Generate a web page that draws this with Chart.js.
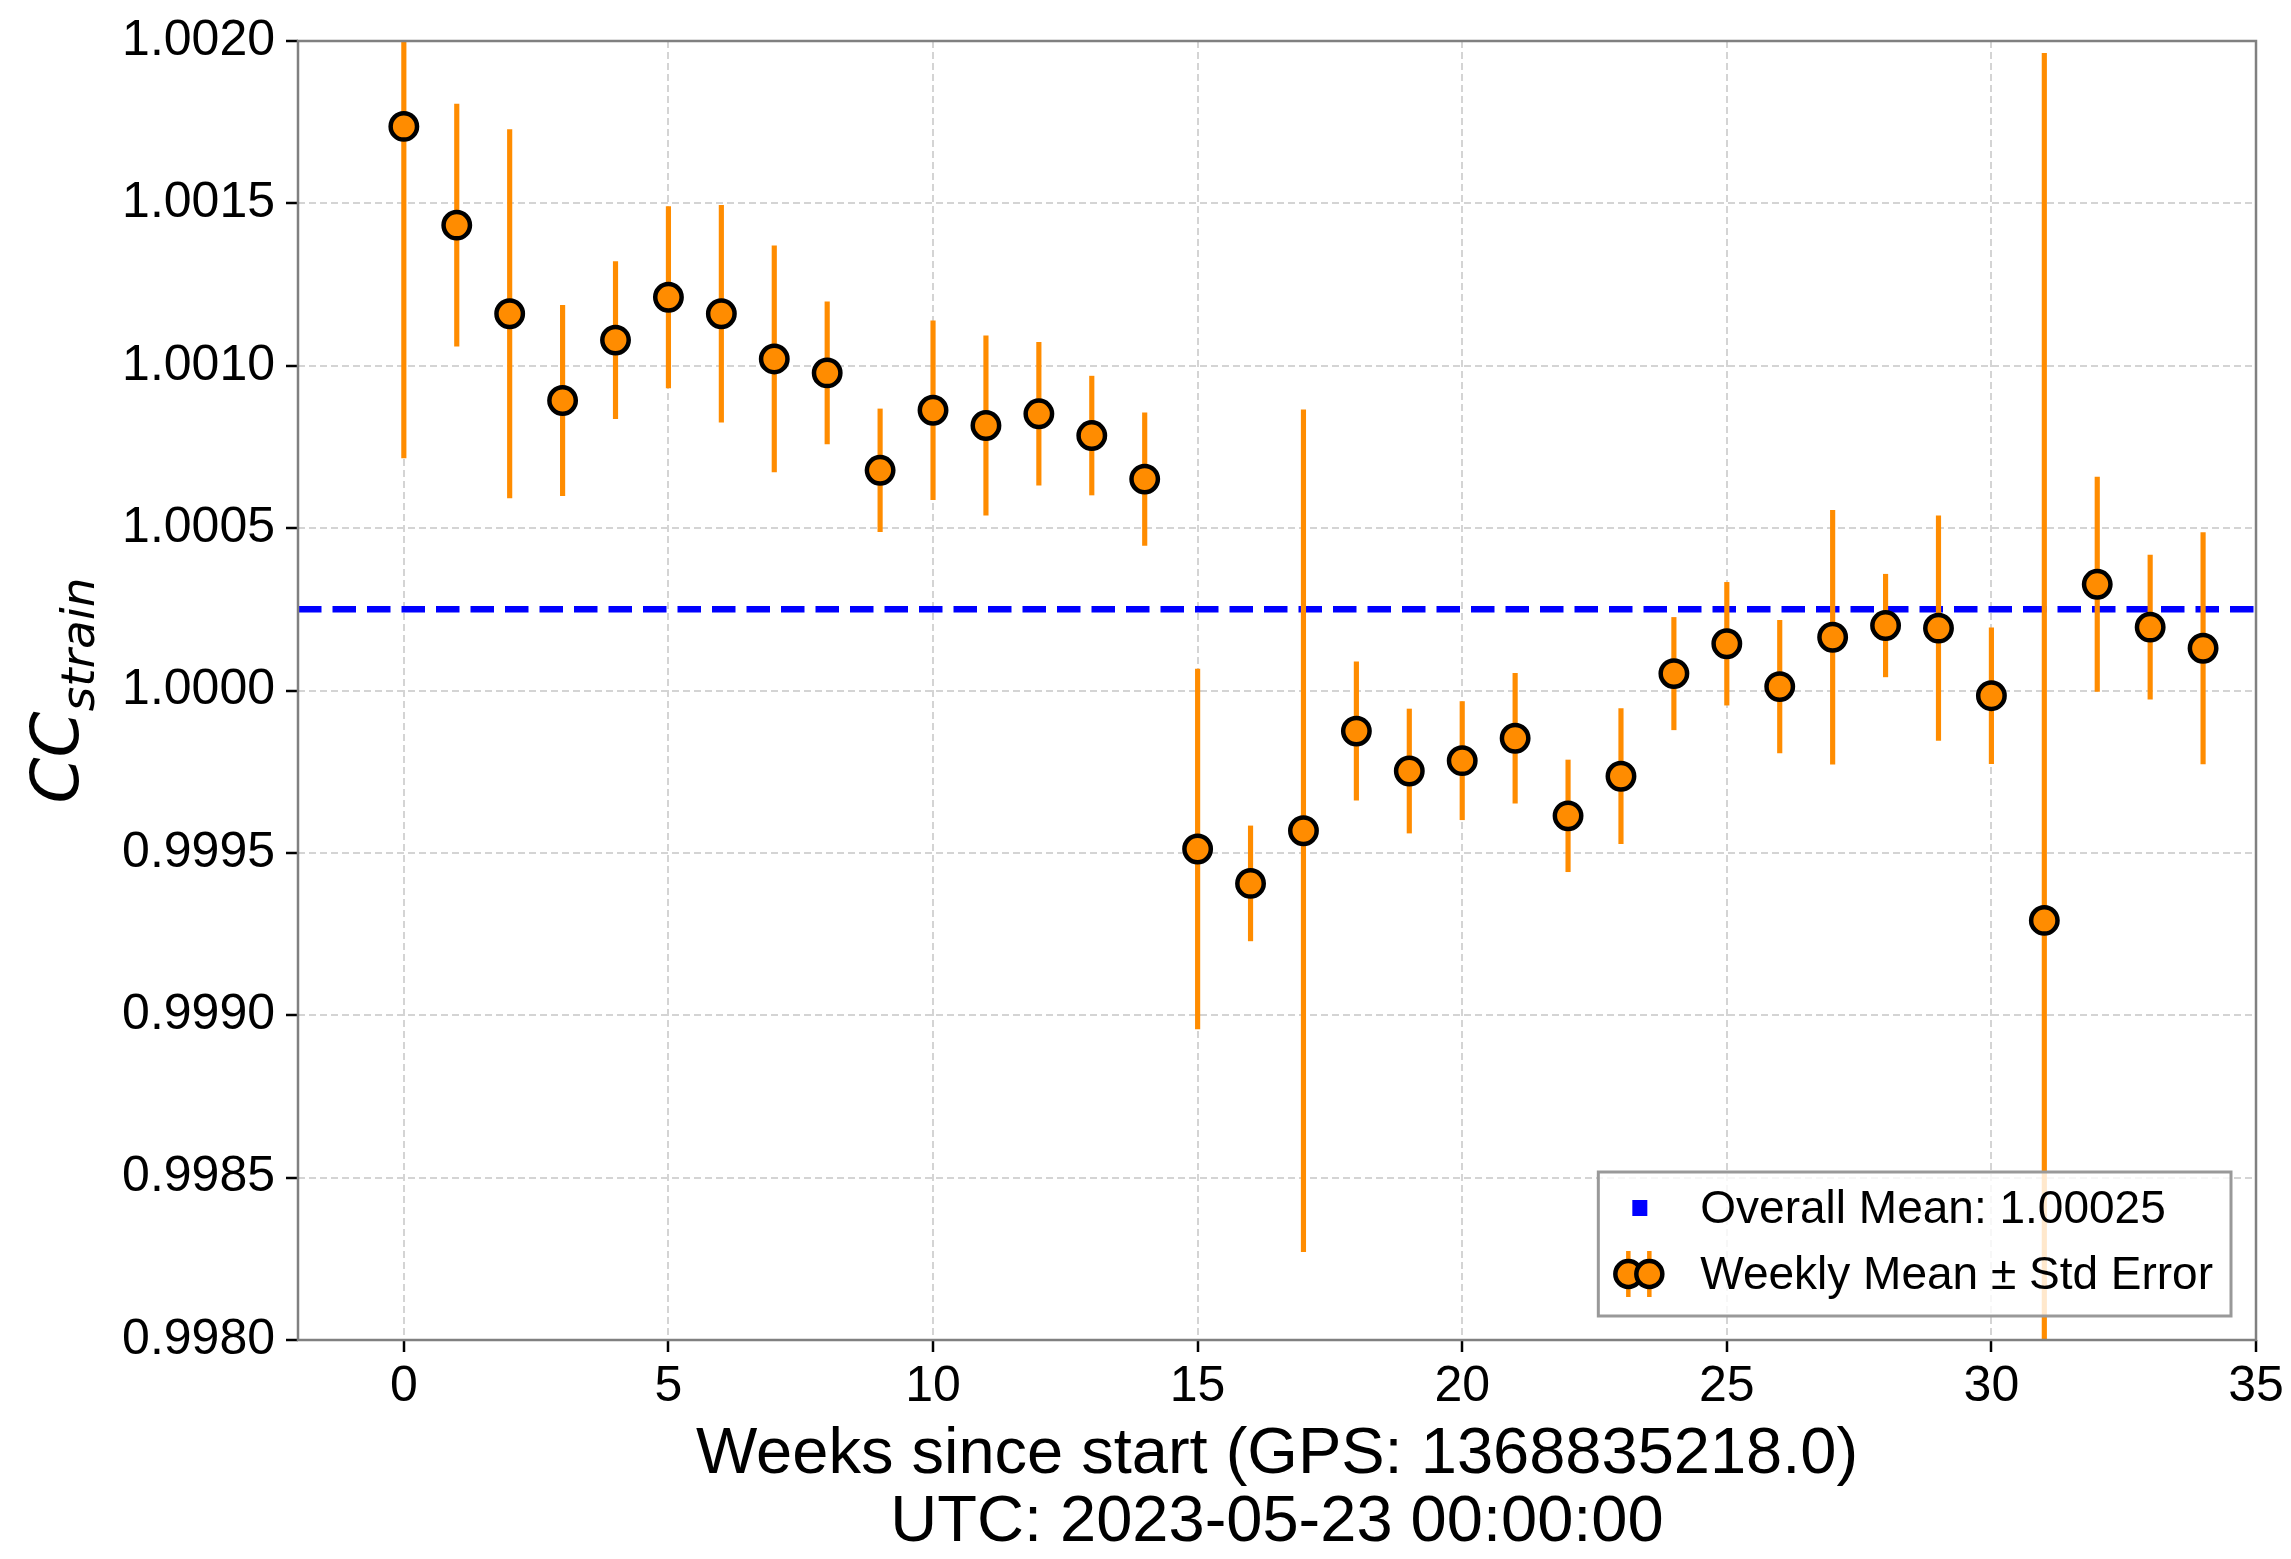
<!DOCTYPE html>
<html>
<head>
<meta charset="utf-8">
<script src="https://cdn.jsdelivr.net/npm/chart.js@4.4.1/dist/chart.umd.min.js"></script>
<style>
  html, body { margin: 0; padding: 0; background: #fff; }
</style>
</head>
<body>
<canvas id="ccStrain" width="2291" height="1559"></canvas>
<script>
// weekly CC values
var weeks = [0, 1, 2, 3, 4, 5, 6, 7, 8, 9, 10, 11, 12, 13, 14, 15, 16, 17,
             18, 19, 20, 21, 22, 23, 24, 25, 26, 27, 28, 29, 30, 31, 32, 33, 34];
var weeklyMean = [1.001737, 1.001433, 1.001160, 1.000893, 1.001079, 1.001211, 1.001160,
                  1.001021, 1.000978, 1.000678, 1.000863, 1.000816, 1.000852, 1.000785,
                  1.000651, 0.999512, 0.999406, 0.999568, 0.999875, 0.999752, 0.999784,
                  0.999853, 0.999614, 0.999736, 1.000052, 1.000144, 1.000012, 1.000164,
                  1.000200, 1.000192, 0.999984, 0.999292, 1.000327, 1.000195, 1.000130];
var stdError = [0.001021, 0.000373, 0.000567, 0.000293, 0.000242, 0.000279, 0.000334,
                0.000348, 0.000219, 0.000189, 0.000275, 0.000276, 0.000220, 0.000183,
                0.000204, 0.000554, 0.000177, 0.001296, 0.000213, 0.000191, 0.000182,
                0.000200, 0.000172, 0.000208, 0.000173, 0.000189, 0.000204, 0.000391,
                0.000158, 0.000346, 0.000209, 0.002670, 0.000330, 0.000222, 0.000356];
var overallMean = 1.00025;

var xRange = [-2, 35];
var xTicks = [0, 5, 10, 15, 20, 25, 30, 35];
var yTicks = [0.9980, 0.9985, 0.9990, 0.9995, 1.0000, 1.0005, 1.0010, 1.0015, 1.0020];
var yTickLabels = ['0.9980', '0.9985', '0.9990', '0.9995', '1.0000', '1.0005', '1.0010', '1.0015', '1.0020'];

var meanLabel = 'Overall Mean: 1.00025';
var weeklyLabel = 'Weekly Mean \u00b1 Std Error';
var xTitle = ['Weeks since start (GPS: 1368835218.0)', 'UTC: 2023-05-23 00:00:00'];
var yLabelMain = 'CC';
var yLabelSub = 'strain';

var ORANGE = '#ff8c00';
var FONT = "'Liberation Sans', Arial, sans-serif";

Chart.defaults.font.family = FONT;
Chart.defaults.color = '#000';

var points = weeks.map(function (w, i) { return {x: w, y: weeklyMean[i]}; });
var bars = weeks.map(function (w, i) {
    return {x: w, y: [weeklyMean[i] - stdError[i], weeklyMean[i] + stdError[i]]};
});
var meanLine = xRange.map(function (x) { return {x: x, y: overallMean}; });

// frame round the plot area (all four spines)
var frame = {
    id: 'frame',
    afterDatasetsDraw: function (chart) {
        var a = chart.chartArea, ctx = chart.ctx;
        ctx.save();
        ctx.strokeStyle = '#808080';
        ctx.lineWidth = 2.5;
        ctx.strokeRect(a.left, a.top, a.right - a.left, a.bottom - a.top);
        ctx.restore();
    }
};

// y label with subscript
var yTitle = {
    id: 'yTitle',
    afterDraw: function (chart) {
        var a = chart.chartArea, ctx = chart.ctx;
        var big = "italic 66px 'DejaVu Sans'";
        var small = "italic 47px 'DejaVu Sans'";
        ctx.save();
        ctx.translate(78, (a.top + a.bottom) / 2);
        ctx.rotate(-Math.PI / 2);
        ctx.fillStyle = '#000';
        ctx.textBaseline = 'alphabetic';
        ctx.font = big;
        var w1 = ctx.measureText(yLabelMain).width;
        ctx.font = small;
        var w2 = ctx.measureText(yLabelSub).width;
        var x0 = -(w1 + w2) / 2;
        ctx.font = big;
        ctx.fillText(yLabelMain, x0, 0);
        ctx.font = small;
        ctx.fillText(yLabelSub, x0 + w1, 16);
        ctx.restore();
    }
};

// legend box in the lower right corner
var legendBox = {
    id: 'legendBox',
    afterDraw: function (chart) {
        var a = chart.chartArea, ctx = chart.ctx;
        ctx.save();
        ctx.font = '46px ' + FONT;
        var tw = Math.max(ctx.measureText(meanLabel).width, ctx.measureText(weeklyLabel).width);
        var w = 102 + tw + 18, h = 144;
        var x = a.right - 25 - w, y = a.bottom - 24 - h;
        ctx.fillStyle = 'rgba(255,255,255,0.8)';
        ctx.fillRect(x, y, w, h);
        ctx.strokeStyle = '#999999';
        ctx.lineWidth = 3;
        ctx.strokeRect(x, y, w, h);

        var r1 = y + 36, r2 = y + 102;
        ctx.fillStyle = '#0000ff';
        ctx.fillRect(x + 34, r1 - 8, 15, 16);

        [x + 30, x + 51].forEach(function (cx) {
            ctx.strokeStyle = ORANGE;
            ctx.lineWidth = 4.5;
            ctx.beginPath();
            ctx.moveTo(cx, r2 - 23);
            ctx.lineTo(cx, r2 + 23);
            ctx.stroke();
        });
        [x + 30, x + 51].forEach(function (cx) {
            ctx.beginPath();
            ctx.arc(cx, r2, 13, 0, Math.PI * 2);
            ctx.fillStyle = ORANGE;
            ctx.fill();
            ctx.strokeStyle = '#000';
            ctx.lineWidth = 4.5;
            ctx.stroke();
        });

        ctx.fillStyle = '#000';
        ctx.textBaseline = 'middle';
        ctx.textAlign = 'left';
        ctx.fillText(meanLabel, x + 102, r1 + 2);
        ctx.fillText(weeklyLabel, x + 102, r2 + 2);
        ctx.restore();
    }
};

var ctx = document.getElementById('ccStrain').getContext('2d');
var ccChart = new Chart(ctx, {
    type: 'scatter',
    data: {
        datasets: [{
            label: weeklyLabel,
            data: points,
            order: 0,
            pointRadius: 13.2,
            pointHoverRadius: 13.2,
            pointBackgroundColor: ORANGE,
            pointBorderColor: '#000',
            pointBorderWidth: 4.5,
            pointHoverBorderWidth: 4.5
        }, {
            type: 'bar',
            label: 'err',
            data: bars,
            order: 1,
            backgroundColor: ORANGE,
            borderWidth: 0,
            barThickness: 4.5
        }, {
            type: 'line',
            label: meanLabel,
            data: meanLine,
            order: 2,
            borderColor: '#0000ff',
            borderWidth: 6.5,
            borderDash: [23.5, 11],
            pointRadius: 0,
            fill: false
        }]
    },
    options: {
        responsive: false,
        animation: false,
        events: [],
        layout: {
            padding: {left: 0, top: 33, right: 35, bottom: 0}
        },
        plugins: {
            legend: {display: false},
            tooltip: {enabled: false}
        },
        scales: {
            x: {
                type: 'linear',
                min: xRange[0],
                max: xRange[1],
                offset: false,
                afterBuildTicks: function (scale) {
                    scale.ticks = xTicks.map(function (v) { return {value: v}; });
                },
                afterFit: function (scale) { scale.height = 219; },
                grid: {
                    color: '#d4d4d4',
                    lineWidth: 2,
                    offset: false,
                    tickColor: '#000',
                    tickLength: 12,
                    tickWidth: 2.5
                },
                border: {display: false, dash: [7, 4]},
                ticks: {
                    font: {size: 50},
                    padding: 5,
                    maxRotation: 0
                },
                title: {
                    display: true,
                    text: xTitle,
                    font: {size: 65, lineHeight: 1.06},
                    padding: {top: 0, bottom: 1}
                }
            },
            y: {
                type: 'linear',
                min: yTicks[0],
                max: yTicks[yTicks.length - 1],
                beginAtZero: false,
                afterBuildTicks: function (scale) {
                    scale.ticks = yTicks.map(function (v) { return {value: v}; });
                },
                afterFit: function (scale) { scale.width = 298; },
                grid: {
                    color: '#d4d4d4',
                    lineWidth: 2,
                    tickColor: '#000',
                    tickLength: 12,
                    tickWidth: 2.5
                },
                border: {display: false, dash: [7, 4]},
                ticks: {
                    font: {size: 50},
                    padding: 11,
                    callback: function (value, index) { return yTickLabels[index]; }
                }
            }
        }
    },
    plugins: [frame, yTitle, legendBox]
});
</script>
</body>
</html>
